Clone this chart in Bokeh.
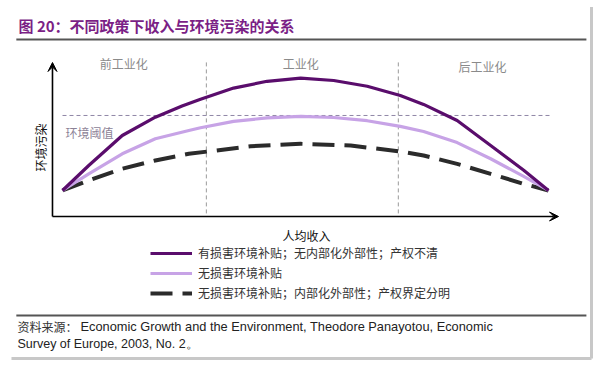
from bokeh.plotting import figure
from bokeh.models import Range1d, Arrow, VeeHead, Legend, LegendItem
from bokeh.core.properties import value
from bokeh.embed import file_html
from bokeh.resources import INLINE

# ---------------- data ----------------
# x: per-capita income index (0..100), y: environmental pollution index
dark_x = [0, 5.4, 12.3, 19.1, 24.6, 28.4, 35.2, 42.1, 49.0, 55.8, 62.7, 69.5, 74.3, 81.2, 88.1, 94.9, 100]
dark_y = [16.9, 33.1, 52.6, 64.5, 71.8, 76.2, 83.4, 87.8, 89.8, 88.3, 84.6, 78.6, 72.8, 62.3, 46.1, 30.0, 16.9]

light_x = [0, 5.4, 12.3, 19.1, 26.0, 28.4, 35.2, 42.1, 49.0, 55.8, 62.7, 69.5, 74.3, 81.2, 88.1, 94.9, 100]
light_y = [16.9, 27.7, 40.7, 50.5, 55.8, 57.6, 61.8, 64.0, 65.0, 64.3, 62.2, 58.5, 55.2, 48.0, 37.5, 26.0, 16.9]

dash_x = [0, 5.4, 12.3, 19.1, 26.0, 38.7, 49.0, 59.3, 69.5, 74.3, 81.2, 88.1, 94.9, 100]
dash_y = [16.9, 23.4, 31.0, 36.4, 40.7, 45.6, 47.2, 46.1, 42.2, 39.6, 34.2, 27.7, 21.2, 16.9]

stage_labels = ["前工业化", "工业化", "后工业化"]
stage_bounds = [29.6, 69.1]
threshold = 65.6
series_names = ["有损害环境补贴；无内部化外部性；产权不清",
                "无损害环境补贴",
                "无损害环境补贴；内部化外部性；产权界定分明"]
title_text = "图 20：不同政策下收入与环境污染的关系"
y_label = "环境污染"
x_label = "人均收入"
threshold_label = "环境阈值"
source_head = "资料来源："
source_line1 = "Economic Growth and the Environment, Theodore Panayotou, Economic"
source_line2 = "Survey of Europe, 2003, No. 2。"

# ---------------- layout ----------------
CJK = value("Noto Sans CJK SC")
W, H = 600, 370
p = figure(width=W, height=H, x_range=Range1d(-12.757, 110.70), y_range=Range1d(-100.0, 140.26),
           min_border=0, output_backend="svg", toolbar_location=None,
           x_axis_type=None, y_axis_type=None)
p.xgrid.visible = False
p.ygrid.visible = False
p.outline_line_color = None
p.background_fill_color = "white"
p.border_fill_color = "white"

DARK = "#5a0d6c"
LIGHT = "#c7a3e6"
BLACK = "#2b2b2b"

# header / footer rules
p.segment(x0=[-9.5, -9.5], y0=[114.9, -64.3], x1=[107.8, 107.8], y1=[114.9, -64.3],
          line_color="#555555", line_width=2)
# card shadow (right & bottom)
p.segment(x0=[108.85, -10.5], y0=[136, -92.2], x1=[108.85, 108.85], y1=[-92.2, -92.2],
          line_color="#c8c8c8", line_width=3)

# title
p.text(x=[-9.05], y=[124.0], text=[title_text], text_font=CJK, text_font_size="15px",
       text_font_style="bold", text_color="#7b1f86", text_baseline="middle", text_align="left")

# stage dividers
for b in stage_bounds:
    p.segment(x0=[b], y0=[2], x1=[b], y1=[101.3], line_color="#9a9a9a", line_width=1,
              line_dash="4 3")
# threshold
p.segment(x0=[0], y0=[threshold], x1=[100.4], y1=[threshold], line_color="#8f86a6",
          line_width=1, line_dash="4 3")

# stage labels
p.text(x=[12.6, 49.0, 86.4], y=[99.4, 99.4, 97.4], text=stage_labels, text_font=CJK,
       text_font_size="12px", text_color="#8a8a8a", text_align="center", text_baseline="middle")
p.text(x=[0.6], y=[54.6], text=[threshold_label], text_font=CJK, text_font_size="12px",
       text_color="#8c8296", text_align="left", text_baseline="middle")

# axes with arrows
p.add_layout(Arrow(end=VeeHead(size=9, fill_color="black", line_color="black", line_width=1),
                   x_start=-2.06, y_start=0, x_end=102.06, y_end=0,
                   line_color="black", line_width=1.6))
p.add_layout(Arrow(end=VeeHead(size=9, fill_color="black", line_color="black", line_width=1),
                   x_start=-2.06, y_start=0, x_end=-2.06, y_end=100,
                   line_color="black", line_width=1.6))

p.text(x=[-4.6], y=[44.8], text=[y_label], text_font=CJK, text_font_size="12px",
       text_color="#111111", angle=1.5708, text_align="center", text_baseline="middle")
p.text(x=[50.2], y=[-12.3], text=[x_label], text_font=CJK, text_font_size="12px",
       text_color="#111111", text_align="center", text_baseline="middle")

# curves
r_dash = p.line(dash_x, dash_y, line_color=BLACK, line_width=4, line_dash="22 10")
r_light = p.line(light_x, light_y, line_color=LIGHT, line_width=3.2, line_join="round")
r_dark = p.line(dark_x, dark_y, line_color=DARK, line_width=3.2, line_join="round")

legend = Legend(items=[LegendItem(label=series_names[0], renderers=[r_dark]),
                       LegendItem(label=series_names[1], renderers=[r_light]),
                       LegendItem(label=series_names[2], renderers=[r_dash])],
                location=(150, 69), orientation="vertical",
                label_text_font="Noto Sans CJK SC", label_text_font_size="12px",
                label_text_color="#333333", glyph_width=42, glyph_height=14,
                label_height=14, spacing=3, label_standoff=6, padding=0, margin=0,
                border_line_color=None, background_fill_alpha=0)
p.add_layout(legend)

# source
p.text(x=[-9.26], y=[-71.4], text=[source_head], text_font=CJK, text_font_size="12px",
       text_color="#333333", text_align="left", text_baseline="middle")
p.text(x=[3.7], y=[-71.4], text=[source_line1], text_font=value("Liberation Sans"),
       text_font_size="12.8px", text_color="#222222", text_align="left", text_baseline="middle")
p.text(x=[-9.26], y=[-82.5], text=[source_line2], text_font=value("Liberation Sans"),
       text_font_size="12.5px", text_color="#222222", text_align="left", text_baseline="middle")

open("out.html", "w").write(file_html(p, INLINE))
